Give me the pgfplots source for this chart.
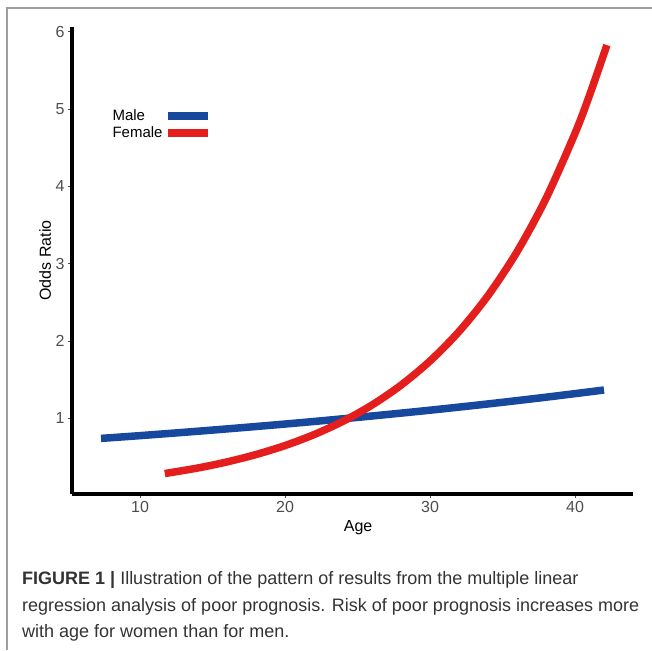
\documentclass[border=0pt]{standalone}
\usepackage{pgfplots}
\pgfplotsset{compat=1.18}
\usepackage{fontspec}
\setmainfont{Liberation Sans}
\newfontfamily\capfont{Liberation Sans}
\definecolor{maleblue}{RGB}{22,72,158}
\definecolor{femred}{RGB}{228,30,28}
\definecolor{ticklab}{RGB}{77,77,77}
\begin{document}
\begin{tikzpicture}
\path[use as bounding box] (0pt,0pt) rectangle (652pt,650pt);
\draw[gray!75, line width=1.2pt] (7pt,0pt) -- (7pt,642pt) -- (652pt,642pt);
\begin{axis}[
  at={(72pt,156pt)}, anchor=south west,
  scale only axis, width=561pt, height=467pt,
  xmin=5.3, xmax=44, ymin=0.02, ymax=6.06,
  axis lines=left,
  axis line style={-, line width=3.5pt, black},
  xtick={10,20,30,40}, ytick={1,2,3,4,5,6},
  tick align=outside, major tick length=4pt,
  tick style={ticklab, line width=0.8pt},
  /pgf/number format/assume math mode=true,
  ticklabel style={font=\fontsize{16}{18}\selectfont, text=ticklab},
  xlabel={Age}, ylabel={Odds Ratio},
  xlabel style={at={(axis description cs:0.51,-0.071)}, anchor=center, font=\fontsize{16}{18}\selectfont},
  ylabel style={at={(axis description cs:-0.048,0.5)}, anchor=center, rotate=0, font=\fontsize{16}{18}\selectfont},
  legend plot pos=right,
  legend image code/.code={\draw[#1] (0pt,0pt) -- (40pt,0pt);},
  legend style={at={(axis description cs:0.063,0.832)}, anchor=north west, draw=none, fill=none,
    font=\fontsize{15}{17}\selectfont, cells={anchor=west}, row sep=1pt},
  clip=false,
]
\addplot[maleblue, line width=7.5pt, smooth] coordinates {
(7.3,0.739) (10,0.775) (14,0.832) (18,0.893) (22,0.958) (26,1.029)
(30,1.104) (34,1.185) (38,1.272) (42,1.365)};
\addlegendentry{Male}
\addplot[femred, line width=7.5pt, smooth] coordinates {
(11.7,0.2845) (14,0.357) (16,0.4354) (18,0.5307) (20,0.6469) (22,0.7885)
(24,0.9612) (26,1.1716) (28,1.4282) (30,1.741) (32,2.122) (34,2.587)
(36,3.153) (38,3.843) (40,4.685) (41,5.177) (42.2,5.826)};
\addlegendentry{Female}
\end{axis}
\begin{scope}[every node/.style={anchor=base west, inner sep=0pt, text=black!80, font=\capfont\fontsize{18}{20}\selectfont}]
\node at (22pt,66pt) {\textbf{FIGURE 1 |} Illustration of the pattern of results from the multiple linear};
\node at (22pt,39pt) {regression analysis of poor prognosis. Risk of poor prognosis increases more};
\node at (22pt,13pt) {with age for women than for men.};
\end{scope}
\end{tikzpicture}
\end{document}
